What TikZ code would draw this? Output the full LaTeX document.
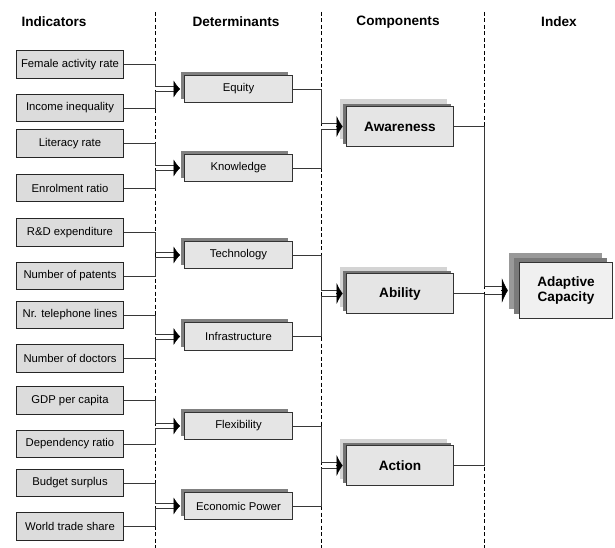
\documentclass[tikz,border=0pt]{standalone}
\usepackage{fontspec}
\setmainfont{Liberation Sans}
\usetikzlibrary{arrows.meta}
\usetikzlibrary{shadows}
\tikzset{>={Latex[length=6.5pt,width=17pt]}}
\definecolor{indfill}{RGB}{220,220,220}
\definecolor{detfill}{RGB}{229,229,229}
\definecolor{linegray}{RGB}{55,55,55}
\def\boxline{1.2pt}
\def\smalltext{\fontsize{11.3}{13.5}\selectfont}
\def\bigtext{\fontsize{13.6}{15.5}\selectfont\bfseries}
\tikzset{
  head/.style={font=\bigtext, inner sep=0pt},
  sepline/.style={dash pattern=on 4pt off 2.5pt, line width=0.9pt},
  link/.style={draw=linegray, line width=0.9pt},
  indbox/.style={draw=black!85, line width=1.4pt, fill=indfill, minimum width=107pt,
    minimum height=27.5pt, inner sep=0pt, font=\smalltext},
  detbox/.style={draw=black!80, line width=\boxline, fill=detfill, minimum width=107.5pt,
    minimum height=27.5pt, inner sep=0pt, font=\smalltext,
    copy shadow={shadow xshift=-4pt, shadow yshift=3.5pt, fill=black!50, draw=none}},
  compbox/.style={draw=black!80, line width=\boxline, fill=detfill, minimum width=107.5pt,
    minimum height=40pt, inner sep=0pt, font=\bigtext,
    copy shadow={shadow xshift=-6.7pt, shadow yshift=7pt, fill=black!17, draw=none},
    copy shadow={shadow xshift=-3pt, shadow yshift=2.5pt, fill=black!55, draw=none}},
  idxbox/.style={draw=black!80, line width=\boxline, fill=black!6, minimum width=93pt,
    minimum height=56pt, inner sep=0pt, font=\bigtext, align=center,
    copy shadow={shadow xshift=-11pt, shadow yshift=10pt, fill=black!40, draw=none},
    copy shadow={shadow xshift=-6pt, shadow yshift=5pt, fill=black!52, draw=none}},
  comparrow/.style={-{Latex[length=6pt,width=21pt]}},
  idxarrow/.style={-{Latex[length=6pt,width=25pt]}}
}

\begin{document}
\begin{tikzpicture}[x=1pt, y=-1pt]
    \useasboundingbox (0,0) rectangle (615,548);
    % column separators
    \coordinate (sepA) at (155,12);
    \coordinate (sepB) at (321,12);
    \coordinate (sepC) at (484,12);
    \draw[sepline] (sepA) -- (155,548);
    \draw[sepline] (sepB) -- (321,548);
    \draw[sepline] (sepC) -- (484,548);

    \node[head] (hind) at (54,22) {Indicators};
    \node[head] (hdet) at (236,22) {Determinants};
    \node[head] (hcomp) at (398,22) {Components};
    \node[head] (hidx) at (559,22) {Index};

    % indicators
    \node[indbox] (fem) at (70,64.5) {Female activity rate};
    \node[indbox] (inc) at (70,108) {Income inequality};
    \node[indbox] (lit) at (70,143.5) {Literacy rate};
    \node[indbox] (enr) at (70,188) {Enrolment ratio};
    \node[indbox] (rnd) at (70,232.5) {R\&D expenditure};
    \node[indbox] (pat) at (70,276) {Number of patents};
    \node[indbox] (tel) at (70,315) {Nr. telephone lines};
    \node[indbox] (doc) at (70,358.5) {Number of doctors};
    \node[indbox] (gdp) at (70,400.5) {GDP per capita};
    \node[indbox] (dep) at (70,444) {Dependency ratio};
    \node[indbox] (bud) at (70,483) {Budget surplus};
    \node[indbox] (wts) at (70,526.5) {World trade share};

    % determinants
    \node[detbox] (equ) at (238.5,89) {Equity};
    \node[detbox] (knw) at (238.5,168) {Knowledge};
    \node[detbox] (tec) at (238.5,255) {Technology};
    \node[detbox] (inf) at (238.5,336.5) {Infrastructure};
    \node[detbox] (flx) at (238.5,426) {Flexibility};
    \node[detbox] (eco) at (238.5,506) {Economic Power};

    % components
    \node[compbox] (awa) at (400,126.5) {Awareness};
    \node[compbox] (abi) at (400,293.5) {Ability};
    \node[compbox] (act) at (400,465.5) {Action};

    % index
    \node[idxbox] (idx) at (566,290.5) {Adaptive\\Capacity};

    % indicators -> determinants
    \draw[link] (fem.east) -| ([yshift=2.5pt]equ.west -| sepA) -- ([shift={(-10pt,2.5pt)}]equ.west);
    \draw[link] (inc.east) -| ([yshift=-2.5pt]equ.west -| sepA) -- ([shift={(-10pt,-2.5pt)}]equ.west);
    \draw[link] (lit.east) -| ([yshift=2.5pt]knw.west -| sepA) -- ([shift={(-10pt,2.5pt)}]knw.west);
    \draw[link] (enr.east) -| ([yshift=-2.5pt]knw.west -| sepA) -- ([shift={(-10pt,-2.5pt)}]knw.west);
    \draw[link] (rnd.east) -| ([yshift=2.5pt]tec.west -| sepA) -- ([shift={(-10pt,2.5pt)}]tec.west);
    \draw[link] (pat.east) -| ([yshift=-2.5pt]tec.west -| sepA) -- ([shift={(-10pt,-2.5pt)}]tec.west);
    \draw[link] (tel.east) -| ([yshift=2.5pt]inf.west -| sepA) -- ([shift={(-10pt,2.5pt)}]inf.west);
    \draw[link] (doc.east) -| ([yshift=-2.5pt]inf.west -| sepA) -- ([shift={(-10pt,-2.5pt)}]inf.west);
    \draw[link] (gdp.east) -| ([yshift=2.5pt]flx.west -| sepA) -- ([shift={(-10pt,2.5pt)}]flx.west);
    \draw[link] (dep.east) -| ([yshift=-2.5pt]flx.west -| sepA) -- ([shift={(-10pt,-2.5pt)}]flx.west);
    \draw[link] (bud.east) -| ([yshift=2.5pt]eco.west -| sepA) -- ([shift={(-10pt,2.5pt)}]eco.west);
    \draw[link] (wts.east) -| ([yshift=-2.5pt]eco.west -| sepA) -- ([shift={(-10pt,-2.5pt)}]eco.west);
    \draw[->] ([xshift=-10.5pt]equ.west) -- ([xshift=-4pt]equ.west);
    \draw[->] ([xshift=-10.5pt]knw.west) -- ([xshift=-4pt]knw.west);
    \draw[->] ([xshift=-10.5pt]tec.west) -- ([xshift=-4pt]tec.west);
    \draw[->] ([xshift=-10.5pt]inf.west) -- ([xshift=-4pt]inf.west);
    \draw[->] ([xshift=-10.5pt]flx.west) -- ([xshift=-4pt]flx.west);
    \draw[->] ([xshift=-10.5pt]eco.west) -- ([xshift=-4pt]eco.west);

    % determinants -> components
    \draw[link] (equ.east) -| ([yshift=3pt]awa.west -| sepB) -- ([shift={(-9pt,3pt)}]awa.west);
    \draw[link] (knw.east) -| ([yshift=-3pt]awa.west -| sepB) -- ([shift={(-9pt,-3pt)}]awa.west);
    \draw[link] (tec.east) -| ([yshift=3pt]abi.west -| sepB) -- ([shift={(-9pt,3pt)}]abi.west);
    \draw[link] (inf.east) -| ([yshift=-3pt]abi.west -| sepB) -- ([shift={(-9pt,-3pt)}]abi.west);
    \draw[link] (flx.east) -| ([yshift=3pt]act.west -| sepB) -- ([shift={(-9pt,3pt)}]act.west);
    \draw[link] (eco.east) -| ([yshift=-3pt]act.west -| sepB) -- ([shift={(-9pt,-3pt)}]act.west);
    \draw[comparrow] ([xshift=-9.5pt]awa.west) -- ([xshift=-3pt]awa.west);
    \draw[comparrow] ([xshift=-9.5pt]abi.west) -- ([xshift=-3pt]abi.west);
    \draw[comparrow] ([xshift=-9.5pt]act.west) -- ([xshift=-3pt]act.west);

    % components -> index
    \draw[link] (awa.east) -| ([yshift=4pt]idx.west -| sepC) -- ([shift={(-17pt,4pt)}]idx.west);
    \draw[link] (abi.east) -- (abi.east -| sepC);
    \draw[link] (act.east) -| ([yshift=-4pt]idx.west -| sepC) -- ([shift={(-17pt,-4pt)}]idx.west);
    \draw[idxarrow] ([xshift=-17.5pt]idx.west) -- ([xshift=-11pt]idx.west);
\end{tikzpicture}
\end{document}
